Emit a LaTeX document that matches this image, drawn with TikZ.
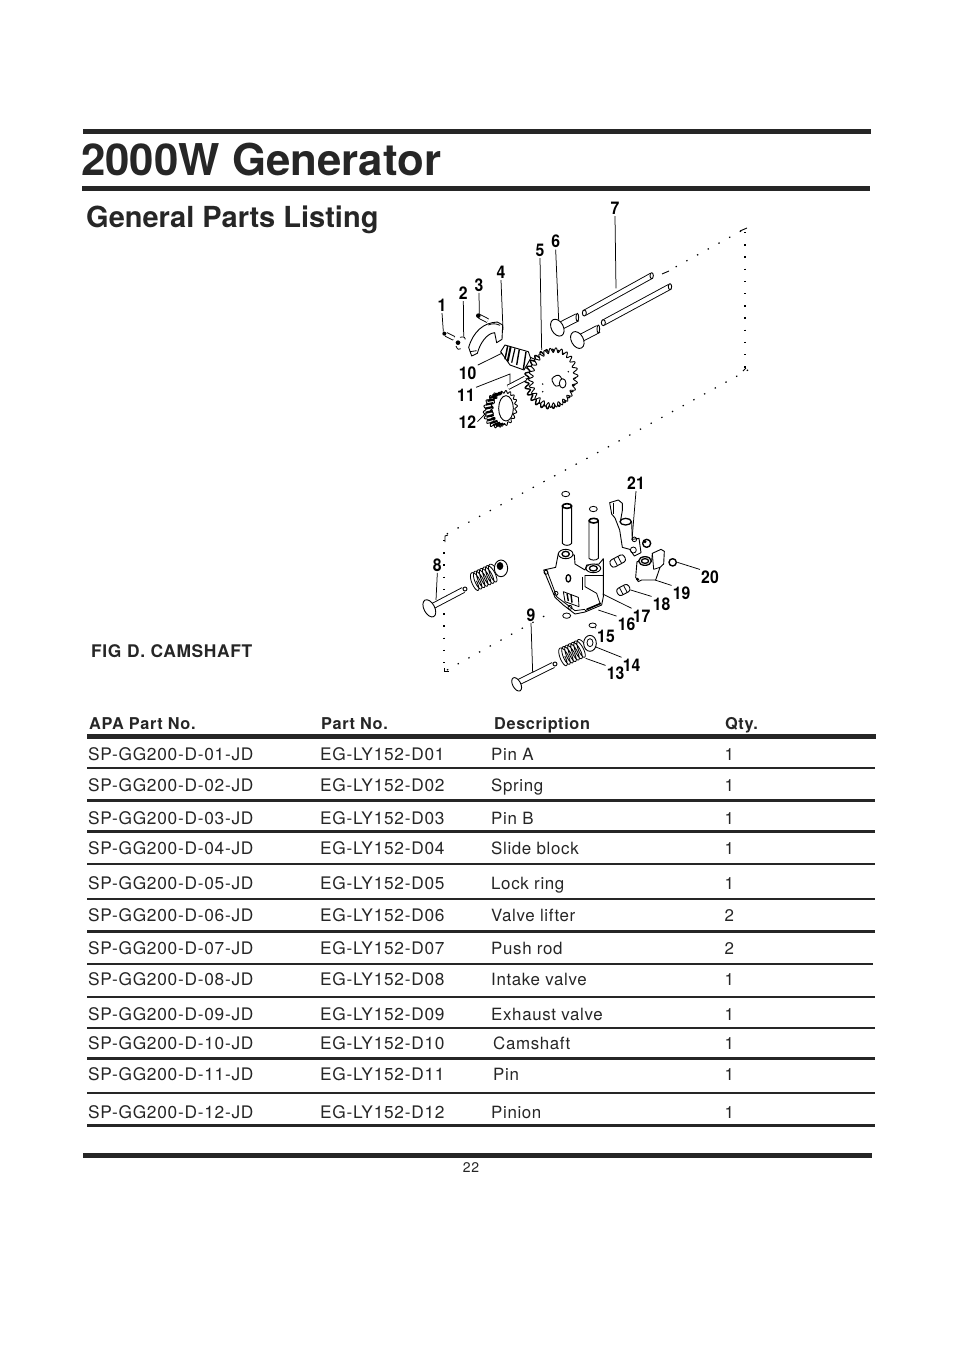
\documentclass[tikz,border=0pt]{standalone}
\usepackage{fontspec}
\setmainfont{TeX Gyre Heros}
\newfontfamily\spaced[LetterSpace=4.3]{TeX Gyre Heros}
\newfontfamily\spacedd[LetterSpace=3.8]{TeX Gyre Heros}
\newfontfamily\spacedb[LetterSpace=3.8,BoldFont={TeX Gyre Heros Bold}]{TeX Gyre Heros}
\definecolor{ink}{HTML}{262626}
\tikzset{
  heavy/.style={draw=ink,line width=#1},
  cell/.style={anchor=base west,inner sep=0pt,text=ink,font=\spaced\fontsize{17.3}{18}\selectfont},
  desc/.style={anchor=base west,inner sep=0pt,text=ink,font=\spacedd\fontsize{16.9}{18}\selectfont},
  headcell/.style={anchor=base west,inner sep=0pt,text=ink,font=\spacedb\bfseries\fontsize{16.3}{18}\selectfont},
  figcap/.style={anchor=base west,inner sep=0pt,text=ink,font=\spacedb\bfseries\fontsize{17.4}{18}\selectfont},
  titletext/.style={anchor=base west,inner sep=0pt,text=ink,font=\bfseries\fontsize{43.8}{50}\selectfont},
  subtext/.style={anchor=base west,inner sep=0pt,text=ink,font=\bfseries\fontsize{29}{34}\selectfont},
  pagenum/.style={inner sep=0pt,text=ink,font=\spacedd\fontsize{14}{14}\selectfont},
  num/.style={inner sep=0pt,outer sep=1.5pt,text=black,xscale=.9,transform shape,font=\bfseries\fontsize{17.5}{18}\selectfont},
  leader/.style={draw=black,line width=.75pt},
  part/.style={draw=black,fill=white,line width=.9pt,line join=round},
  thin part/.style={draw=black,line width=.8pt,line join=round},
  rod/.style={draw=black,line width=.9pt,double=white,double distance=4.4pt},
  short rod/.style={draw=black,line width=.9pt,double=white,double distance=6.5pt},
  dots/.style={draw=black,line width=1.2pt,dash pattern=on 1.4pt off 10.8pt},
  z1/.style={shift={(420,190)},x=.33333pt,y=-.33333pt},
  z2/.style={shift={(420,440)},x=.33333pt,y=-.33333pt},
  z3/.style={shift={(460,320)},x=.33333pt,y=-.33333pt},
  z4/.style={shift={(535,490)},x=.33333pt,y=-.33333pt},
}
\newcommand\leadto[3]{\coordinate (t#1) at (#2); \draw[leader] (n#1.#3) -- (t#1);}
\newcommand\partrow[7]{%
  \node[cell] (a#1) at (88,#2+6) {#3};
  \node[cell] (b#1) at (320,#2+6) {#4};
  \node[desc] (c#1) at (#5,#2+6) {#6};
  \node[desc] (d#1) at (724.5,#2+6) {#7};
}
\newcommand\gearcurve[4]{plot[domain=0:360,samples=#3*8+1,variable=\t] ({(#1+#4*sin(#3*\t))*cos(\t)},{(#2+#4*sin(#3*\t))*sin(\t)})}
\newcommand\coil[4]{plot[domain=0:2520,samples=169,smooth,variable=\t] ({\t/2520*#1-#1/2+#2*cos(\t)},{#3*sin(\t)+#4})}
\newcommand\roller[3]{% centre x, centre y, half length
  \begin{scope}[shift={(#1,#2)},rotate=28]
    \draw[part,rounded corners=3pt] (-#3,-12) rectangle (#3,12);
    \draw[thin part] (-7,-12) -- (-7,12);
    \draw[thin part] (7,-12) -- (7,12);
  \end{scope}}
\begin{document}
\begin{tikzpicture}[x=1pt,y=-1pt]
\useasboundingbox (0,0) rectangle (954,1350);
\fill[white] (0,0) rectangle (954,1350);

% page rules and headings
\coordinate (r1a) at (83,131.5); \coordinate (r1b) at (871,131.5);
\coordinate (r2a) at (82,188.5); \coordinate (r2b) at (870,188.5);
\coordinate (r3a) at (83,1155.5); \coordinate (r3b) at (872,1155.5);
\draw[heavy=5.5pt] (r1a) -- (r1b);
\draw[heavy=5.5pt] (r2a) -- (r2b);
\draw[heavy=5pt] (r3a) -- (r3b);
\node[titletext] (title) at (81,175) {2000W Generator};
\node[subtext] (sub) at (86,227.5) {General Parts Listing};
\node[figcap] (fig) at (91,657) {FIG D. CAMSHAFT};
\node[pagenum] (page) at (471,1167.5) {22};

% table
\node[headcell] (h1) at (89,729) {APA Part No.};
\node[headcell] (h2) at (321,729) {Part No.};
\node[headcell] (h3) at (494,729) {Description};
\node[headcell] (h4) at (725,729) {Qty.};
\coordinate (hl) at (87,736.5); \coordinate (hr) at (876,736.5);
\draw[heavy=4.5pt] (hl) -- (hr);
\foreach \yy/\xe in {768/875,800.5/875,831.5/875,864/875,899/875,931.5/875,964/873,997/875,1028/875,1058.5/875,1093/875,1125.5/875}{
  \coordinate (la) at (87,\yy); \coordinate (lb) at (\xe,\yy);
  \draw[heavy=2.2pt] (la) -- (lb);
}
\partrow{01}{754}{SP-GG200-D-01-JD}{EG-LY152-D01}{491}{Pin A}{1}
\partrow{02}{785}{SP-GG200-D-02-JD}{EG-LY152-D02}{491}{Spring}{1}
\partrow{03}{818}{SP-GG200-D-03-JD}{EG-LY152-D03}{491}{Pin B}{1}
\partrow{04}{848}{SP-GG200-D-04-JD}{EG-LY152-D04}{491}{Slide block}{1}
\partrow{05}{883}{SP-GG200-D-05-JD}{EG-LY152-D05}{491}{Lock ring}{1}
\partrow{06}{915}{SP-GG200-D-06-JD}{EG-LY152-D06}{491}{Valve lifter}{2}
\partrow{07}{948}{SP-GG200-D-07-JD}{EG-LY152-D07}{491}{Push rod}{2}
\partrow{08}{979}{SP-GG200-D-08-JD}{EG-LY152-D08}{491}{Intake valve}{1}
\partrow{09}{1014}{SP-GG200-D-09-JD}{EG-LY152-D09}{491}{Exhaust valve}{1}
\partrow{10}{1043}{SP-GG200-D-10-JD}{EG-LY152-D10}{493}{Camshaft}{1}
\partrow{11}{1074}{SP-GG200-D-11-JD}{EG-LY152-D11}{493}{Pin}{1}
\partrow{12}{1112}{SP-GG200-D-12-JD}{EG-LY152-D12}{491}{Pinion}{1}

% dotted frame
\draw[dots] (748,370) -- (608,447) -- (445,535);
\draw[dots] (745,232) -- (745,370);
\draw[dots] (741,231) -- (670,270);
\draw[dots] (444,540) -- (444,668);
\draw[dots] (447,670) -- (548,614);
\draw[black,line width=.9pt] (740,231) -- (747,228);
\draw[black,line width=.9pt] (662,274) -- (669,271);
\draw[black,line width=.9pt] (743,371) -- (746,368);
\draw[black,line width=.9pt] (445,542) -- (445,536) -- (448,535);
\draw[black,line width=.9pt] (444,668) -- (444,671) -- (449,671);

% ---------- upper group
\begin{scope}[z1]
  % push rods and lifters
  \draw[rod] (493,369) -- (695,257);
  \draw[part] (695,257) ellipse [x radius=5,y radius=9];
  \draw[part] (493,369) ellipse [x radius=6,y radius=9];
  \draw[rod] (550,398) -- (750,290);
  \draw[part] (750,290) ellipse [x radius=5,y radius=9];
  \draw[part] (550,398) ellipse [x radius=6,y radius=9];
  \draw[short rod] (425,406) -- (472,382);
  \draw[part] (472,382) ellipse [x radius=4,y radius=12];
  \draw[part,rotate around={28:(412,413)}] (412,413) ellipse [x radius=18,y radius=27];
  \draw[short rod] (485,443) -- (535,417);
  \draw[part] (535,417) ellipse [x radius=4,y radius=12];
  \draw[part,rotate around={28:(472,450)}] (472,450) ellipse [x radius=18,y radius=27];
  % pins
  \draw[rod,double distance=3pt] (78,433) -- (102,445);
  \fill[black] (73,431) circle [radius=6];
  \fill[black] (114,458) circle [radius=7];
  \draw[thin part] (120,442) .. controls (132,438) and (138,444) .. (136,448);
  \draw[thin part] (108,468) .. controls (112,480) and (118,480) .. (122,476);
  \draw[rod,double distance=3pt] (178,379) -- (203,392);
  \fill[black] (175,377) circle [radius=7];
  % slide block
  \draw[part] (146,472) .. controls (160,425) and (190,398) .. (232,396) -- (248,405) -- (246,448) -- (230,458) -- (224,428)
     .. controls (200,430) and (180,460) .. (172,490) -- (155,498) -- cycle;
  \draw[thin part] (150,485) -- (170,482);
  \draw[thin part] (205,405) .. controls (216,400) and (228,400) .. (240,406);
\end{scope}
\begin{scope}[z3]
  % camshaft
  \draw[part] (195,105) -- (248,128) -- (228,158) -- (180,135) -- cycle;
  \draw[part] (122,95) -- (135,75) -- (205,95) -- (212,115) -- (192,150) -- (150,135) -- cycle;
  \draw[black,line width=1.5pt] (143,78) -- (135,118);
  \draw[black,line width=2pt] (152,80) -- (143,124);
  \draw[black,line width=1.2pt] (165,85) -- (155,128);
  \draw[black,line width=1.4pt] (178,88) -- (170,135);
  \draw[black,line width=1.4pt] (198,95) -- (190,148);
  \draw[thin part] (122,95) -- (128,105);
\end{scope}
\begin{scope}[z1]
  % camshaft gear
  \begin{scope}[shift={(390,567)},rotate=-8]
    \draw[part,line width=1.4pt] \gearcurve{70}{83}{26}{7};
  \end{scope}
  \begin{scope}[shift={(400,563)},rotate=-8]
    \draw[part] \gearcurve{67}{83}{26}{7};
  \end{scope}
  \begin{scope}[shift={(412,572)},rotate=28]
    \draw[part,rounded corners=3pt] (-14,-15) rectangle (14,15);
  \end{scope}
  \draw[part] (428,580) ellipse [x radius=10,y radius=14];
  \fill[black] (368,582) circle [radius=2.5];
  \fill[black] (368,605) circle [radius=2.5];
  \fill[black] (445,545) circle [radius=2.5];
  % pin 11
  \draw[rod,double distance=3.5pt] (264,592) -- (316,565);
  % pinion
  \begin{scope}[shift={(232,660)},rotate=-10]
    \draw[part] \gearcurve{38}{50}{18}{4};
  \end{scope}
  \begin{scope}[shift={(252,655)},rotate=-10]
    \draw[part] \gearcurve{36}{50}{18}{4};
  \end{scope}
  \foreach \a in {100,115,...,265}{
    \draw[black,line width=2.2pt] ({232+36*cos(\a)},{660-48*sin(\a)}) -- ({252+34*cos(\a)},{655-46*sin(\a)});
  }
  \draw[part] (258,655) ellipse [x radius=22,y radius=38];
  % labels
  \foreach \n/\p in {7/{585,55},6/{407,155},5/{360,181},4/{243,247},3/{177,285},2/{130,310},1/{66,346},10/{143,549},11/{138,615},12/{142,695}}{
    \node[num] (n\n) at (\p) {\n};
  }
  \leadto{7}{588,295}{south}
  \leadto{6}{416,390}{south}
  \leadto{5}{365,480}{south}
  \leadto{4}{249,420}{south}
  \leadto{3}{178,372}{south}
  \leadto{2}{131,440}{south}
  \leadto{1}{70,425}{south}
  \leadto{10}{245,490}{north east}
  \coordinate (t11a) at (270,552); \coordinate (t11) at (270,580);
  \draw[leader] (n11.north east) -- (t11a) -- (t11);
  \leadto{12}{195,672}{east}
\end{scope}

% ---------- lower group
\begin{scope}[z2]
  % valve 8
  \draw[rod] (35,500) -- (130,450);
  \draw[part] (135,447) circle [radius=6];
  \draw[part,rotate around={28:(28,505)}] (28,505) ellipse [x radius=16,y radius=28];
  \begin{scope}[shift={(192,412)},rotate=25]
    \draw[thin part] \coil{70}{10}{28}{0};
  \end{scope}
  \draw[part] (243,385) ellipse [x radius=20,y radius=25];
  \fill[black] (240,378) ellipse [x radius=10,y radius=12];
  % valve 9
  \draw[rod] (295,727) -- (400,675);
  \draw[part] (405,672) circle [radius=6];
  \draw[part,rotate around={28:(290,733)}] (290,733) ellipse [x radius=12,y radius=22];
  \begin{scope}[shift={(457,638)},rotate=25]
    \draw[thin part] \coil{70}{10}{28}{0};
  \end{scope}
  \draw[part] (510,610) ellipse [x radius=19,y radius=24];
  \draw[thin part] (510,608) ellipse [x radius=9,y radius=12];
  % rings
  \draw[thin part] (437,162) ellipse [x radius=12,y radius=8];
  \draw[thin part] (520,207) ellipse [x radius=12,y radius=8];
  \draw[thin part] (440,527) ellipse [x radius=12,y radius=8];
  \draw[thin part] (518,556) ellipse [x radius=11,y radius=7];
\end{scope}

\begin{scope}[z4]
  % tubes
  \draw[part] (82,48) -- (82,160) .. controls (88,168) and (104,168) .. (110,160) -- (110,48) -- cycle;
  \draw[part,line width=1.6pt] (96,48) ellipse [x radius=14,y radius=7];
  \draw[part] (162,92) -- (162,205) .. controls (168,212) and (184,212) .. (190,205) -- (190,92) -- cycle;
  \draw[part,line width=1.6pt] (176,92) ellipse [x radius=14,y radius=7];
  % block
  \draw[part] (26,240) -- (62,232) -- (70,190) -- (118,195) -- (120,222) -- (150,240) -- (155,225) -- (192,222) -- (205,206) -- (205,320) -- (200,345) -- (150,366) -- (120,372) -- (85,345) -- (60,322) -- cycle;
  \draw[thin part] (35,240) -- (65,320) -- (120,362) -- (150,358);
  \draw[thin part] (150,255) -- (150,290) -- (185,310) -- (195,340) -- (150,362);
  \draw[thin part] (142,260) -- (142,300);
  \draw[thin part] (150,255) -- (205,255);
  \draw[black,line width=1.6pt] (155,358) -- (198,340);
  \draw[part] (92,192) ellipse [x radius=22,y radius=14];
  \draw[part,line width=1.3pt] (92,192) ellipse [x radius=11,y radius=8];
  \draw[part] (175,235) ellipse [x radius=22,y radius=13];
  \draw[part,line width=1.3pt] (175,235) ellipse [x radius=12,y radius=8];
  \draw[thin part] (33,247) circle [radius=6];
  \draw[part,line width=1.3pt] (100,265) ellipse [x radius=7,y radius=11];
  \draw[thin part] (63,310) circle [radius=6];
  \draw[thin part] (105,352) circle [radius=6];
  \draw[thin part] (85,305) -- (130,322) -- (132,350) -- (90,335) -- cycle;
  \draw[black,line width=1.4pt] (96,310) -- (100,333);
  \draw[black,line width=1.4pt] (108,314) -- (111,338);
  % rocker 21
  \draw[part] (224,38) -- (250,30) -- (262,40) -- (262,62) -- (256,95) -- (290,95) -- (292,148) -- (312,145) -- (318,188) -- (298,198) -- (284,178) -- (262,172) -- (254,120) -- (240,84) -- (230,72) -- cycle;
  \draw[part,line width=1.3pt] (272,95) ellipse [x radius=17,y radius=10];
  \draw[thin part] (236,38) -- (236,72);
  \draw[thin part] (295,180) circle [radius=9];
  \draw[thin part] (298,148) circle [radius=7];
  \draw[part,line width=1.4pt] (335,160) circle [radius=12];
  \fill[black] (330,155) circle [radius=5];
  % rollers
  \roller{248}{213}{24}
  \roller{265}{300}{20}
  % rocker 19
  \draw[part] (352,190) -- (378,178) -- (388,184) -- (386,222) -- (375,232) -- (362,270) -- (320,270) -- (310,275) -- (302,262) -- (306,215) -- (350,215) -- cycle;
  \draw[thin part] (352,190) -- (356,238) -- (375,232);
  \draw[part,line width=1.3pt] (330,213) ellipse [x radius=19,y radius=13];
  \draw[part,line width=1.3pt] (330,213) ellipse [x radius=11,y radius=7];
  \fill[black] (308,268) circle [radius=5];
  % nut 20
  \draw[part,line width=1.4pt] (413,217) circle [radius=11];
\end{scope}

\begin{scope}[z2]
  \foreach \n/\p in {21/{648,130},20/{870,412},19/{785,460},18/{725,493},17/{665,528},16/{620,552},15/{558,588},14/{635,675},13/{587,700},9/{333,525},8/{52,375}}{
    \node[num] (n\n) at (\p) {\n};
  }
  \leadto{21}{636,300}{south}
  \leadto{20}{772,367}{north west}
  \leadto{19}{705,420}{north west}
  \leadto{18}{632,450}{north west}
  \leadto{17}{548,462}{north west}
  \leadto{16}{535,510}{north west}
  \leadto{15}{525,562}{north west}
  \leadto{14}{525,620}{north west}
  \leadto{13}{497,655}{north west}
  \leadto{9}{338,697}{south}
  \leadto{8}{48,480}{south}
\end{scope}
\end{tikzpicture}
\end{document}
